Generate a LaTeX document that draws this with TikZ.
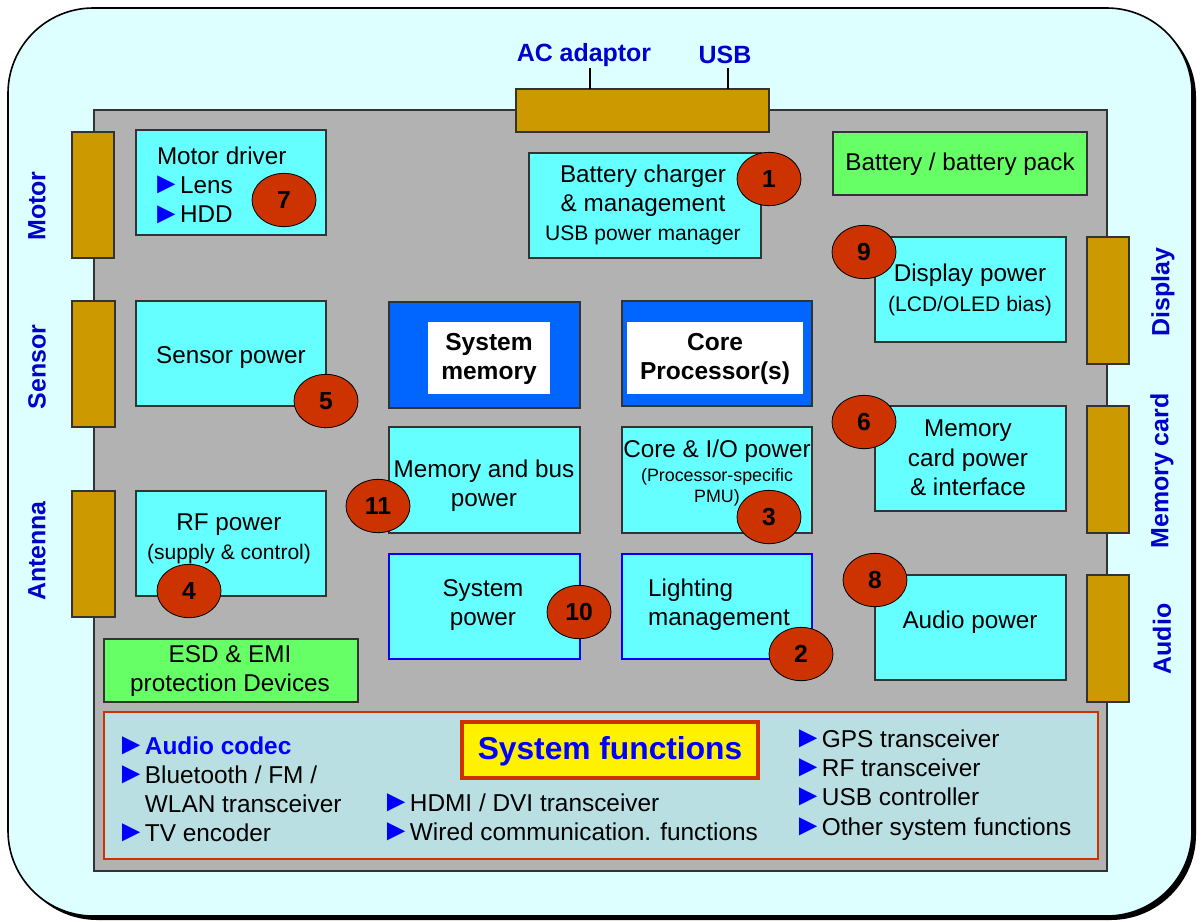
\documentclass[tikz,border=0pt]{standalone}
\usepackage{fontspec}
\usepackage{graphicx}
\setmainfont{Liberation Sans}
\usetikzlibrary{shapes.geometric}
\definecolor{bgc}{HTML}{DDFFFF}
\definecolor{board}{HTML}{B2B2B2}
\definecolor{cyanb}{HTML}{66FFFF}
\definecolor{greenb}{HTML}{66FF66}
\definecolor{connc}{HTML}{CC9900}
\definecolor{numc}{HTML}{CC3300}
\definecolor{lbl}{HTML}{0000CC}
\definecolor{procb}{HTML}{0066FF}
\definecolor{funcb}{HTML}{B9DFE2}
\definecolor{edge}{HTML}{333333}
\definecolor{bulc}{HTML}{0000FF}
\newcommand\tri{\kern-5.2pt\raisebox{-0.02em}{\scalebox{1.25}{►}}\kern-1pt}
\newcommand\bul{{\color{bulc}\tri}}
\newcommand\bx[6]{\node[#6, minimum width={(#4-#2)*0.75pt}, minimum height={(#5-#3)*0.75pt}] (#1) at ({(#2+#4)/2},{(#3+#5)/2}) {};}
\newcommand\nm[3]{\node[numb] (n#1) at (#2,#3) {#1};}
\begin{document}
\begin{tikzpicture}[x=0.75pt,y=-0.75pt,
 every node/.style={inner sep=0pt, outer sep=0pt},
 cbox/.style={draw=edge, fill=cyanb, line width=0.8pt},
 gbox/.style={draw=edge, fill=greenb, line width=0.8pt},
 bbox/.style={draw=bulc, fill=cyanb, line width=0.9pt},
 pbox/.style={draw=edge, fill=procb, line width=0.8pt},
 wbox/.style={fill=white},
 conn/.style={draw=edge, fill=connc, line width=0.8pt},
 numb/.style={ellipse, draw=black, fill=numc, line width=0.6pt, minimum width=48pt, minimum height=40pt, font=\fontsize{18.5}{20}\selectfont\bfseries},
 lab/.style={text=lbl, font=\fontsize{18.7}{20}\selectfont\bfseries},
 txt/.style={align=center, font=\fontsize{18.2}{22}\selectfont},
 btxt/.style={align=center, font=\fontsize{18.4}{22}\selectfont\bfseries},
 item/.style={anchor=base west, font=\fontsize{18.3}{22}\selectfont}
]
\useasboundingbox (0,0) rectangle (1202,921);
% outer frame with shadow
\fill[black, rounded corners=64pt] (12,12) rectangle (1196,920);
\draw[fill=bgc, draw=black, line width=1.2pt, rounded corners=64pt] (8,8) rectangle (1192,916);
% board
\draw[fill=board, draw=edge, line width=0.8pt] (94,110) rectangle (1107,871);
% connectors
\bx{ctop}{516}{89}{769}{132}{conn}
\bx{cmotor}{72}{132}{114}{258}{conn}
\bx{csensor}{72}{301}{115}{427}{conn}
\bx{cant}{72}{491}{115}{617}{conn}
\bx{cdisp}{1087}{237}{1129}{364}{conn}
\bx{cmem}{1087}{406}{1129}{533}{conn}
\bx{caudio}{1087}{575}{1129}{702}{conn}
% connector labels
\node[lab] (lac) at (584,55) {AC adaptor};
\node[lab] (lusb) at (725,55) {USB};
\coordinate (pa) at (590,68);
\coordinate (pb) at (728,68);
\draw[line width=2.2pt] (pa) -- (pa |- ctop.north);
\draw[line width=2.2pt] (pb) -- (pb |- ctop.north);
\node[lab, rotate=90] (lmotor) at (37,206) {Motor};
\node[lab, rotate=90] (lsensor) at (37,367) {Sensor};
\node[lab, rotate=90] (lant) at (37,551) {Antenna};
\node[lab, rotate=90] (ldisp) at (1163,292) {Display};
\node[lab, rotate=90] (lmem) at (1162,471) {Memory card};
\node[lab, rotate=90] (laudio) at (1162,639) {Audio};
% boxes
\bx{motor}{136}{130}{326}{235}{cbox}
\bx{charger}{529}{153}{761}{258}{cbox}
\bx{batt}{833}{132}{1087}{195}{gbox}
\bx{disp}{875}{237}{1066}{342}{cbox}
\bx{sensor}{136}{301}{326}{406}{cbox}
\bx{sysmem}{389}{302}{580}{408}{pbox}
\bx{sysmemw}{428}{322}{550}{394}{wbox}
\bx{core}{622}{301}{812}{406}{pbox}
\bx{corew}{627}{322}{803}{394}{wbox}
\bx{memcard}{875}{406}{1066}{511}{cbox}
\bx{membus}{389}{427}{580}{533}{cbox}
\bx{coreio}{622}{427}{812}{533}{cbox}
\bx{rf}{136}{491}{326}{596}{cbox}
\bx{syspow}{389}{554}{580}{659}{bbox}
\bx{light}{622}{554}{812}{659}{bbox}
\bx{audio}{875}{575}{1066}{680}{cbox}
\bx{esd}{104}{639}{358}{702}{gbox}
\bx{func}{104}{712}{1098}{859}{draw=numc, fill=funcb, line width=1pt}
\bx{title}{462}{722}{758}{778}{draw=numc, fill=yellow, line width=2.4pt}
% box texts
\node[txt, align=left, anchor=west] (tmotor) at (157,185) {Motor driver\\\hspace*{1pt}\bul Lens\\\hspace*{1pt}\bul HDD};
\node[txt] (tcharger) at (643,205) {Battery charger\\\& management\\{\fontsize{15.8}{18}\selectfont USB power manager}};
\node[txt] (tdisp) at (970,290) {Display power\\{\fontsize{15.8}{18}\selectfont (LCD/OLED bias)}};
\node[txt] (tbatt) at (960,164) {Battery / battery pack};
\node[txt] (tsensor) at (231,358) {Sensor power};
\node[btxt] (tsysmem) at (489,359) {System\\memory};
\node[btxt] (tcore) at (715,359) {Core\\Processor(s)};
\node[txt] (tmemcard) at (968,458) {Memory\\card power\\\& interface};
\node[txt] (tmembus) at (484,486) {Memory and bus\\power};
\node[txt] (tcoreio) at (717,473) {Core \& I/O power\\[-4pt]{\fontsize{13.4}{16}\selectfont (Processor-specific}\\[-6pt]{\fontsize{13.4}{16}\selectfont PMU)}};
\node[txt] (trf) at (229,539) {RF power\\{\fontsize{15.8}{18}\selectfont (supply \& control)}};
\node[txt] (tsyspow) at (483,605) {System\\power};
\node[txt, align=left] (tlight) at (719,605) {Lighting\\management};
\node[txt] (taudio) at (970,622) {Audio power};
\node[txt] (tesd) at (230,671) {ESD \& EMI\\protection Devices};
\node[text=bulc, font=\fontsize{23.8}{26}\selectfont\bfseries] (ttitle) at (610,751) {System functions};
% function list
\node[item, text=bulc, font=\fontsize{18.3}{22}\selectfont\bfseries] (f1) at (123,754) {\tri Audio codec};
\node[item] (f2) at (123,783) {\bul Bluetooth / FM /};
\node[item] (f3) at (123,812) {\phantom{\tri}WLAN transceiver};
\node[item] (f4) at (123,841) {\bul TV encoder};
\node[item] (f5) at (388,811) {\bul HDMI / DVI transceiver};
\node[item] (f6) at (388,840) {\bul Wired communication. functions};
\node[item] (f7) at (800,747) {\bul GPS transceiver};
\node[item] (f8) at (800,776) {\bul RF transceiver};
\node[item] (f9) at (800,805) {\bul USB controller};
\node[item] (f10) at (800,835) {\bul Other system functions};
% numbers
\nm{1}{769}{179}
\nm{2}{801}{654}
\nm{3}{769}{517}
\nm{4}{189}{591}
\nm{5}{326}{401}
\nm{6}{864}{422}
\nm{7}{284}{200}
\nm{8}{875}{580}
\nm{9}{864}{252}
\nm{10}{579}{612}
\nm{11}{378}{506}
\end{tikzpicture}
\end{document}
